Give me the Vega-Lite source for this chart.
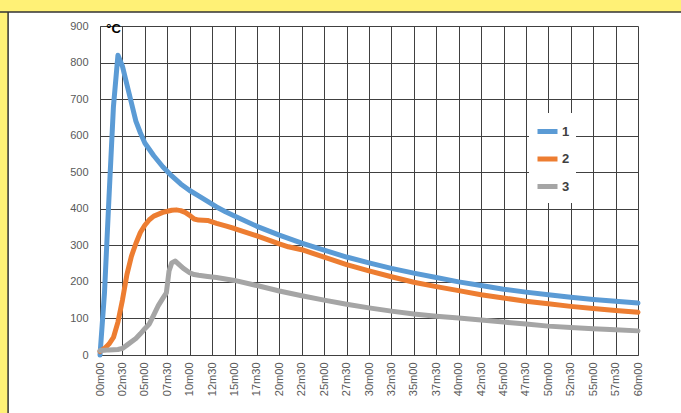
{
  "$schema": "https://vega.github.io/schema/vega-lite/v6.json",
  "width": 538,
  "height": 329,
  "autosize": {"type": "none"},
  "padding": {"left": 100, "top": 26, "right": 43, "bottom": 58},
  "background": "white",
  "config": {
    "view": {"stroke": null},
    "font": "Liberation Sans"
  },
  "layer": [
    {
      "data": {
        "values": [
          {"t": 0, "v": 0, "s": "1"}, {"t": 0.5, "v": 170, "s": "1"}, {"t": 1, "v": 430, "s": "1"}, {"t": 1.5, "v": 680, "s": "1"}, {"t": 2, "v": 820, "s": "1"}, {"t": 2.5, "v": 790, "s": "1"}, {"t": 3, "v": 740, "s": "1"}, {"t": 3.5, "v": 690, "s": "1"}, {"t": 4, "v": 640, "s": "1"}, {"t": 4.5, "v": 608, "s": "1"}, {"t": 5, "v": 580, "s": "1"}, {"t": 6, "v": 545, "s": "1"}, {"t": 7, "v": 515, "s": "1"}, {"t": 8, "v": 490, "s": "1"}, {"t": 9, "v": 468, "s": "1"}, {"t": 10, "v": 450, "s": "1"}, {"t": 11, "v": 435, "s": "1"}, {"t": 12, "v": 420, "s": "1"}, {"t": 13, "v": 405, "s": "1"}, {"t": 14, "v": 392, "s": "1"}, {"t": 15, "v": 380, "s": "1"}, {"t": 17.5, "v": 352, "s": "1"}, {"t": 20, "v": 328, "s": "1"}, {"t": 22.5, "v": 306, "s": "1"}, {"t": 25, "v": 287, "s": "1"}, {"t": 27.5, "v": 268, "s": "1"}, {"t": 30, "v": 252, "s": "1"}, {"t": 32.5, "v": 237, "s": "1"}, {"t": 35, "v": 224, "s": "1"}, {"t": 37.5, "v": 212, "s": "1"}, {"t": 40, "v": 200, "s": "1"}, {"t": 42.5, "v": 190, "s": "1"}, {"t": 45, "v": 180, "s": "1"}, {"t": 47.5, "v": 172, "s": "1"}, {"t": 50, "v": 165, "s": "1"}, {"t": 52.5, "v": 158, "s": "1"}, {"t": 55, "v": 152, "s": "1"}, {"t": 57.5, "v": 147, "s": "1"}, {"t": 60, "v": 142, "s": "1"},
          {"t": 0, "v": 10, "s": "2"}, {"t": 0.5, "v": 18, "s": "2"}, {"t": 1, "v": 30, "s": "2"}, {"t": 1.5, "v": 48, "s": "2"}, {"t": 2, "v": 90, "s": "2"}, {"t": 2.5, "v": 150, "s": "2"}, {"t": 3, "v": 220, "s": "2"}, {"t": 3.5, "v": 270, "s": "2"}, {"t": 4, "v": 305, "s": "2"}, {"t": 4.5, "v": 335, "s": "2"}, {"t": 5, "v": 355, "s": "2"}, {"t": 5.5, "v": 370, "s": "2"}, {"t": 6, "v": 380, "s": "2"}, {"t": 7, "v": 390, "s": "2"}, {"t": 8, "v": 396, "s": "2"}, {"t": 8.5, "v": 397, "s": "2"}, {"t": 9, "v": 395, "s": "2"}, {"t": 9.5, "v": 390, "s": "2"}, {"t": 10, "v": 382, "s": "2"}, {"t": 10.5, "v": 372, "s": "2"}, {"t": 11, "v": 369, "s": "2"}, {"t": 12, "v": 368, "s": "2"}, {"t": 13, "v": 360, "s": "2"}, {"t": 14, "v": 353, "s": "2"}, {"t": 15, "v": 346, "s": "2"}, {"t": 17.5, "v": 326, "s": "2"}, {"t": 20, "v": 304, "s": "2"}, {"t": 21, "v": 296, "s": "2"}, {"t": 22.5, "v": 288, "s": "2"}, {"t": 25, "v": 268, "s": "2"}, {"t": 27.5, "v": 247, "s": "2"}, {"t": 30, "v": 230, "s": "2"}, {"t": 32.5, "v": 214, "s": "2"}, {"t": 35, "v": 199, "s": "2"}, {"t": 37.5, "v": 187, "s": "2"}, {"t": 40, "v": 176, "s": "2"}, {"t": 42.5, "v": 165, "s": "2"}, {"t": 45, "v": 156, "s": "2"}, {"t": 47.5, "v": 147, "s": "2"}, {"t": 50, "v": 140, "s": "2"}, {"t": 52.5, "v": 133, "s": "2"}, {"t": 55, "v": 127, "s": "2"}, {"t": 57.5, "v": 122, "s": "2"}, {"t": 60, "v": 117, "s": "2"},
          {"t": 0, "v": 12, "s": "3"}, {"t": 0.5, "v": 13, "s": "3"}, {"t": 1, "v": 14, "s": "3"}, {"t": 2, "v": 15, "s": "3"}, {"t": 2.5, "v": 18, "s": "3"}, {"t": 3, "v": 27, "s": "3"}, {"t": 4, "v": 45, "s": "3"}, {"t": 4.5, "v": 58, "s": "3"}, {"t": 5, "v": 72, "s": "3"}, {"t": 5.5, "v": 85, "s": "3"}, {"t": 6, "v": 110, "s": "3"}, {"t": 6.5, "v": 135, "s": "3"}, {"t": 7, "v": 155, "s": "3"}, {"t": 7.4, "v": 170, "s": "3"}, {"t": 7.7, "v": 230, "s": "3"}, {"t": 8, "v": 252, "s": "3"}, {"t": 8.4, "v": 257, "s": "3"}, {"t": 8.8, "v": 248, "s": "3"}, {"t": 9.3, "v": 237, "s": "3"}, {"t": 10, "v": 225, "s": "3"}, {"t": 10.5, "v": 220, "s": "3"}, {"t": 11, "v": 218, "s": "3"}, {"t": 12, "v": 215, "s": "3"}, {"t": 13, "v": 212, "s": "3"}, {"t": 14.5, "v": 206, "s": "3"}, {"t": 15, "v": 204, "s": "3"}, {"t": 17.5, "v": 190, "s": "3"}, {"t": 20, "v": 175, "s": "3"}, {"t": 22.5, "v": 162, "s": "3"}, {"t": 25, "v": 150, "s": "3"}, {"t": 27.5, "v": 139, "s": "3"}, {"t": 30, "v": 129, "s": "3"}, {"t": 32.5, "v": 120, "s": "3"}, {"t": 35, "v": 112, "s": "3"}, {"t": 37.5, "v": 106, "s": "3"}, {"t": 40, "v": 101, "s": "3"}, {"t": 42.5, "v": 96, "s": "3"}, {"t": 45, "v": 90, "s": "3"}, {"t": 47.5, "v": 85, "s": "3"}, {"t": 50, "v": 79, "s": "3"}, {"t": 52.5, "v": 75, "s": "3"}, {"t": 55, "v": 72, "s": "3"}, {"t": 57.5, "v": 69, "s": "3"}, {"t": 60, "v": 66, "s": "3"}
        ]
      },
      "mark": {"type": "line", "strokeWidth": 5, "strokeCap": "round", "strokeJoin": "round"},
      "encoding": {
        "x": {
          "field": "t", "type": "quantitative", "title": null,
          "scale": {"domain": [0, 60], "nice": false, "zero": false},
          "axis": {
            "values": [0, 2.5, 5, 7.5, 10, 12.5, 15, 17.5, 20, 22.5, 25, 27.5, 30, 32.5, 35, 37.5, 40, 42.5, 45, 47.5, 50, 52.5, 55, 57.5, 60],
            "labelExpr": "(floor(datum.value) < 10 ? '0' : '') + floor(datum.value) + 'm' + (datum.value % 1 ? '30' : '00')",
            "labelAngle": -90, "labelAlign": "right", "labelBaseline": "middle",
            "labelPadding": 7, "labelFontSize": 11, "labelColor": "#595959",
            "ticks": false, "grid": true, "gridColor": "#404040", "gridWidth": 1,
            "domainColor": "#404040", "labelOverlap": false, "labelFlush": false
          }
        },
        "y": {
          "field": "v", "type": "quantitative", "title": "°C",
          "scale": {"domain": [0, 900], "nice": false, "zero": false},
          "axis": {
            "values": [0, 100, 200, 300, 400, 500, 600, 700, 800, 900],
            "labelPadding": 12, "labelFontSize": 11, "labelColor": "#595959",
            "ticks": false, "grid": true, "gridColor": "#404040", "gridWidth": 1,
            "domainColor": "#404040", "labelOverlap": false,
            "titleAngle": 0, "titleX": 13, "titleY": 2, "titleAlign": "center", "titleBaseline": "middle",
            "titleFontSize": 13, "titleFontWeight": "bold", "titleColor": "#000000"
          }
        },
        "color": {
          "field": "s", "type": "nominal",
          "scale": {"domain": ["1", "2", "3"], "range": ["#5B9BD5", "#ED7D31", "#A5A5A5"]},
          "legend": {
            "title": null, "orient": "none", "legendX": 429, "legendY": 87,
            "padding": 6, "fillColor": "white", "strokeColor": null,
            "symbolType": "stroke", "symbolSize": 400, "symbolStrokeWidth": 5,
            "labelFontSize": 13, "labelFontWeight": "bold", "labelColor": "#404040",
            "labelOffset": 2, "rowPadding": 4.5
          }
        }
      }
    },
    {
      "data": {"values": [{"frame": "left"}]},
      "mark": {"type": "rect", "fill": "#FFF176", "stroke": "#333333", "strokeWidth": 1.5, "clip": false},
      "encoding": {
        "x": {
          "datum": -40, "type": "quantitative", "title": null,
          "scale": {"domain": [0, 60], "nice": false, "zero": false},
          "axis": {
            "values": [0, 2.5, 5, 7.5, 10, 12.5, 15, 17.5, 20, 22.5, 25, 27.5, 30, 32.5, 35, 37.5, 40, 42.5, 45, 47.5, 50, 52.5, 55, 57.5, 60],
            "labelExpr": "(floor(datum.value) < 10 ? '0' : '') + floor(datum.value) + 'm' + (datum.value % 1 ? '30' : '00')",
            "labelAngle": -90, "labelAlign": "right", "labelBaseline": "middle",
            "labelPadding": 7, "labelFontSize": 11, "labelColor": "#595959",
            "ticks": false, "grid": true, "gridColor": "#404040", "gridWidth": 1,
            "domainColor": "#404040", "labelOverlap": false, "labelFlush": false
          }
        },
        "x2": {"datum": -10.25},
        "y": {
          "datum": 1200, "type": "quantitative", "title": "°C",
          "scale": {"domain": [0, 900], "nice": false, "zero": false},
          "axis": {
            "values": [0, 100, 200, 300, 400, 500, 600, 700, 800, 900],
            "labelPadding": 12, "labelFontSize": 11, "labelColor": "#595959",
            "ticks": false, "grid": true, "gridColor": "#404040", "gridWidth": 1,
            "domainColor": "#404040", "labelOverlap": false,
            "titleAngle": 0, "titleX": 13, "titleY": 2, "titleAlign": "center", "titleBaseline": "middle",
            "titleFontSize": 13, "titleFontWeight": "bold", "titleColor": "#000000"
          }
        },
        "y2": {"datum": -400}
      }
    },
    {
      "data": {"values": [{"frame": "top"}]},
      "mark": {"type": "rect", "fill": "#FFF176", "stroke": "#333333", "strokeWidth": 1.5, "clip": false},
      "encoding": {
        "x": {
          "datum": -40, "type": "quantitative", "title": null,
          "scale": {"domain": [0, 60], "nice": false, "zero": false},
          "axis": {
            "values": [0, 2.5, 5, 7.5, 10, 12.5, 15, 17.5, 20, 22.5, 25, 27.5, 30, 32.5, 35, 37.5, 40, 42.5, 45, 47.5, 50, 52.5, 55, 57.5, 60],
            "labelExpr": "(floor(datum.value) < 10 ? '0' : '') + floor(datum.value) + 'm' + (datum.value % 1 ? '30' : '00')",
            "labelAngle": -90, "labelAlign": "right", "labelBaseline": "middle",
            "labelPadding": 7, "labelFontSize": 11, "labelColor": "#595959",
            "ticks": false, "grid": true, "gridColor": "#404040", "gridWidth": 1,
            "domainColor": "#404040", "labelOverlap": false, "labelFlush": false
          }
        },
        "x2": {"datum": 90},
        "y": {
          "datum": 1200, "type": "quantitative", "title": "°C",
          "scale": {"domain": [0, 900], "nice": false, "zero": false},
          "axis": {
            "values": [0, 100, 200, 300, 400, 500, 600, 700, 800, 900],
            "labelPadding": 12, "labelFontSize": 11, "labelColor": "#595959",
            "ticks": false, "grid": true, "gridColor": "#404040", "gridWidth": 1,
            "domainColor": "#404040", "labelOverlap": false,
            "titleAngle": 0, "titleX": 13, "titleY": 2, "titleAlign": "center", "titleBaseline": "middle",
            "titleFontSize": 13, "titleFontWeight": "bold", "titleColor": "#000000"
          }
        },
        "y2": {"datum": 938}
      }
    }
  ]
}
